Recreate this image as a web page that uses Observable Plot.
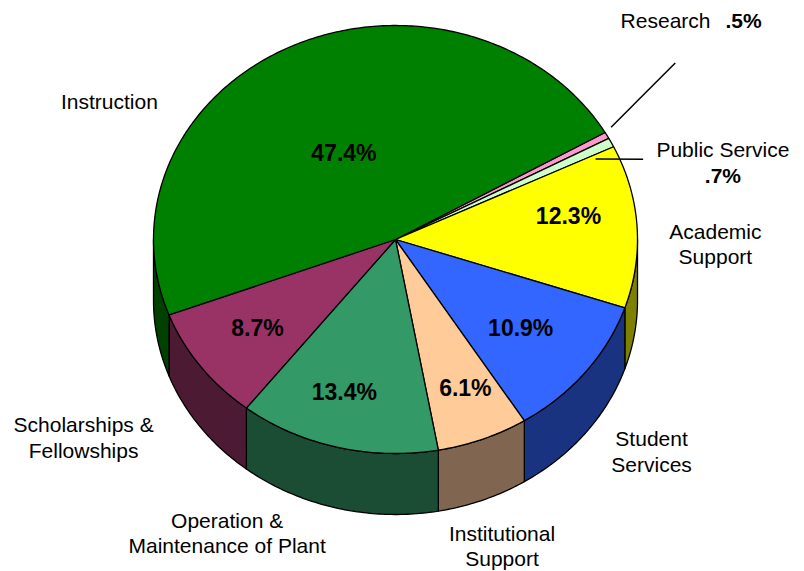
<!DOCTYPE html>
<html><head><meta charset="utf-8">
<script src="https://cdn.jsdelivr.net/npm/d3@7"></script>
<script src="https://cdn.jsdelivr.net/npm/@observablehq/plot@0.6"></script>
<style>body{margin:0;background:#fff;} #chart{width:804px;height:571px;}</style>
</head><body><div id="chart"></div>
<script>
// ---- data ----
const categories = ["Research", "Public Service", "Academic Support", "Student Services",
  "Institutional Support", "Operation & Maintenance of Plant", "Scholarships & Fellowships", "Instruction"];
const labelText = ["Research", "Public Service", "Academic\nSupport", "Student\nServices",
  "Institutional\nSupport", "Operation &\nMaintenance of Plant", "Scholarships &\nFellowships", "Instruction"];
const percents = [0.5, 0.7, 12.3, 10.9, 6.1, 13.4, 8.7, 47.4];

// ---- styles ----
const topColors  = ["#ff99cc", "#ccffcc", "#ffff00", "#3366ff", "#ffcc99", "#339966", "#993366", "#008000"];
const sideColors = ["#804d66", "#668066", "#808000", "#1a3380", "#806650", "#1a4d33", "#4d1a33", "#004000"];

// ---- layout (pie units: rx = 1) ----
const W = 804, H = 571, CX = 395, CY = 239, RX = 242, RY = 214;
const START = 30, DEPTH = 61 / RY;
// outer label placement: radius and angle offset from slice mid-angle
const outerR  = [1.589, 1.399, 1.322, 1.448, 1.494, 1.534, 1.585, 1.349];
const outerDA = [10.8, -12.2, -4.35, -4.83, -4.05, -13.05, -0.7, 35.9];
// inner percent placement
const innerR  = [null, null, 0.723, 0.665, 0.755, 0.744, 0.705, 0.455];
const innerDA = [null, null, 5.1, -0.7, 1.3, -2.6, -0.3, 2.6];
// leader lines (Research, Public Service): [r0, da0, r1, da1]
const leaders = {0: [1.034, 1.4, 1.420, 6.4], 1: [0.908, -2.5, 1.090, -6.8]};

const rad = Math.PI / 180;
const pt = (deg, r = 1, dz = 0) => ({x: r * Math.cos(deg * rad), y: r * Math.sin(deg * rad) - dz});
function arc(a, b, r = 1, dz = 0) {
  const n = Math.max(2, Math.ceil(Math.abs(b - a) / 0.75));
  return d3.range(n + 1).map(k => pt(a + (b - a) * k / n, r, dz));
}
const fmtPct = v => d3.format(".1f")(v).replace(/^0/, "") + "%";

let acc = START;
const slices = categories.map((c, i) => {
  const a0 = acc, a1 = acc - 360 * percents[i] / 100;
  acc = a1;
  return {c, i, a0, a1, mid: (a0 + a1) / 2};
});

const marks = [];
// side walls (front half only)
for (const s of slices) {
  const hi = Math.min(s.a0, 0), lo = Math.max(s.a1, -180);
  if (hi > lo) {
    const pts = [...arc(hi, lo), ...arc(lo, hi, 1, DEPTH)];
    marks.push(Plot.line(pts, {x: "x", y: "y", curve: "linear-closed", fill: sideColors[s.i],
      stroke: "black", strokeWidth: 1.3, strokeLinejoin: "round"}));
  }
}
// top faces
for (const s of slices) {
  const pts = [{x: 0, y: 0}, ...arc(s.a0, s.a1)];
  marks.push(Plot.line(pts, {x: "x", y: "y", curve: "linear-closed", fill: topColors[s.i],
    stroke: "black", strokeWidth: 1.3, strokeLinejoin: "round"}));
}
// leader lines
const leaderData = Object.entries(leaders).map(([k, [r0, d0, r1, d1]]) => {
  const s = slices[+k], p0 = pt(s.mid + d0, r0), p1 = pt(s.mid + d1, r1);
  return {x1: p0.x, y1: p0.y, x2: p1.x, y2: p1.y};
});
marks.push(Plot.link(leaderData, {x1: "x1", y1: "y1", x2: "x2", y2: "y2", stroke: "black", strokeWidth: 1.5}));

// inner percent labels
const innerData = slices.filter(s => innerR[s.i] != null).map(s => {
  const p = pt(s.mid + innerDA[s.i], innerR[s.i]);
  return {...p, text: fmtPct(percents[s.i])};
});
marks.push(Plot.text(innerData, {x: "x", y: "y", text: "text", fontSize: 23, fontWeight: "bold",
  fontFamily: "Liberation Sans, Arial, sans-serif", fill: "black"}));

// outer labels
const outer = slices.map(s => ({...pt(s.mid + outerDA[s.i], outerR[s.i]), text: labelText[s.i], i: s.i}));
const font = "Liberation Sans, Arial, sans-serif";
marks.push(Plot.text(outer.filter(d => d.i >= 2), {x: "x", y: "y", text: "text", fontSize: 21,
  lineHeight: 1.2, fontFamily: font, fill: "black"}));
// Research: name + bold percent on same line
marks.push(Plot.text([outer[0]], {x: "x", y: "y", text: "text", fontSize: 21, fontFamily: font,
  textAnchor: "end", dx: 20, fill: "black"}));
marks.push(Plot.text([{...outer[0], text: fmtPct(percents[0])}], {x: "x", y: "y", text: "text", fontSize: 21,
  fontFamily: font, fontWeight: "bold", textAnchor: "start", dx: 35, fill: "black"}));
// Public Service: name, bold percent below
marks.push(Plot.text([outer[1]], {x: "x", y: "y", text: "text", fontSize: 21, fontFamily: font,
  dy: -13, fill: "black"}));
marks.push(Plot.text([{...outer[1], text: fmtPct(percents[1])}], {x: "x", y: "y", text: "text", fontSize: 21,
  fontFamily: font, fontWeight: "bold", dy: 13, fill: "black"}));

const chart = Plot.plot({
  width: W, height: H, margin: 0,
  x: {domain: [-CX / RX, (W - CX) / RX], range: [0, W], axis: null},
  y: {domain: [(CY - H) / RY, CY / RY], range: [H, 0], axis: null},
  style: {background: "white", overflow: "visible"},
  marks
});
document.getElementById("chart").appendChild(chart);
</script>
</body></html>
